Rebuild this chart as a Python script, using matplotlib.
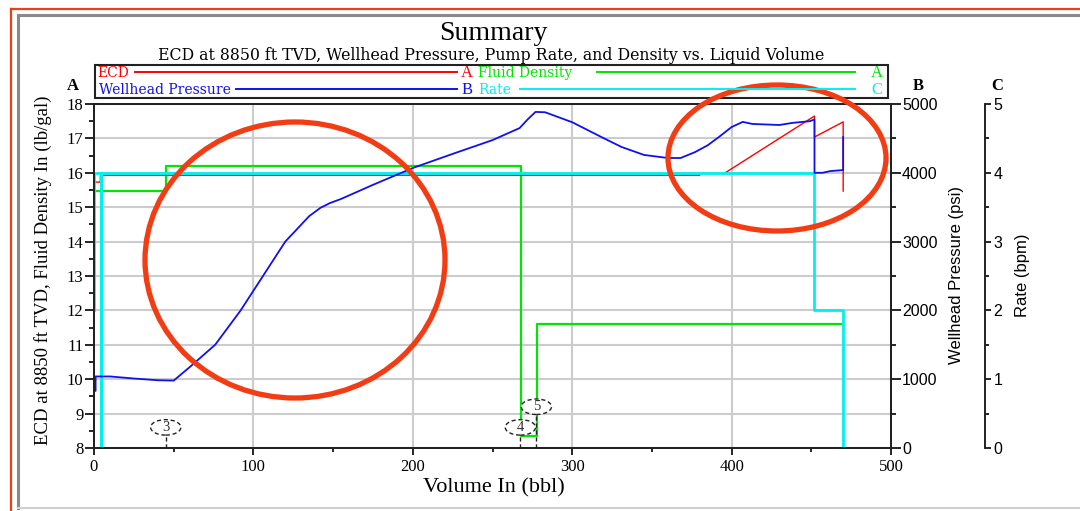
import matplotlib
matplotlib.use('Agg')
import matplotlib.pyplot as plt
from matplotlib.patches import Ellipse, Rectangle
from matplotlib.lines import Line2D
import numpy as np

SERIF = 'Liberation Serif'
WIDE = 'DejaVu Serif'
SANS = 'Liberation Sans'

RED = '#ff0000'
BLUE = '#1010ee'
GREEN = '#00e600'
CYAN = '#00f0f0'
MARK = '#f23c14'

# ECD at 8850 ft TVD (lb/gal), axis A
ecd_x = [0, 4, 4, 380, np.nan, 396, 452, 452, 470, 470]
ecd_y = [15.73, 15.73, 15.93, 15.93, np.nan, 16.0, 17.65, 17.04, 17.48, 15.47]

# fluid density in (lb/gal), axis A
dens_x = [0, 45, 45, 267.7, 267.7, 277.7, 277.7, 469]
dens_y = [15.47, 15.47, 16.2, 16.2, 8.35, 8.35, 11.6, 11.6]

# wellhead pressure (psi), axis B
whp_x = [0, 1, 1, 10, 25, 40, 50, 60, 76, 92, 106, 120, 135, 142, 148, 155,
         175, 200, 225, 250, 267, 272, 277, 283, 300, 320, 331, 345, 360, 368,
         377, 385, 392, 400, 407, 413, 430, 438, 449, 452, 452, 457, 462, 470,
         470]
whp_y = [830, 830, 1040, 1040, 1010, 985, 980, 1175, 1500, 2000, 2500, 3000,
         3370, 3490, 3560, 3620, 3825, 4070, 4275, 4475, 4650, 4775, 4885,
         4880, 4735, 4500, 4375, 4260, 4215, 4215, 4300, 4400, 4520, 4665,
         4740, 4710, 4695, 4725, 4750, 4775, 4000, 4000, 4025, 4040, 4520]

# pump rate (bpm), axis C
rate_x = [0, 0, 4.4, 4.4, 4.4, 451.5, 451.5, 470, 470]
rate_y = [2, 4, 4, 0, 4, 4, 2, 2, 0]

# event markers
event_x = [45, 267.5, 277.5]
event_y = [8.6, 8.6, 9.2]
event_lbl = ['3', '4', '5']

W, H = 1080, 511


def fx(px):
    return px / W


def fy(py):
    return 1 - py / H


fig = plt.figure(figsize=(W / 100, H / 100), dpi=100)
ax = fig.add_axes([fx(94), fy(448), (891 - 94) / W, (448 - 104) / H])
ax_c = ax.twinx()
ax_b = ax.twinx()
ax_c.spines['right'].set_position(('axes', 1 + 94 / 797))
for s in ['top', 'left', 'bottom']:
    ax_c.spines[s].set_visible(False)

for a in [ax, ax_b, ax_c]:
    for s in a.spines.values():
        s.set_color('#222222')
        s.set_linewidth(1.4)

ax.set_xlim(0, 500)
ax.set_ylim(8, 18)
ax_b.set_ylim(0, 5000)
ax_c.set_ylim(0, 5)

ax.set_xticks(range(0, 501, 100))
ax.set_xticks(range(50, 500, 100), minor=True)
ax.set_yticks(range(8, 19))
ax.set_yticks(np.arange(8.5, 18, 1), minor=True)
ax_b.set_yticks(range(0, 5001, 1000))
ax_b.set_yticks(range(500, 5000, 1000), minor=True)
ax_c.set_yticks(range(0, 6))
ax_c.set_yticks(np.arange(0.5, 5, 1), minor=True)

ax.tick_params(axis='x', which='major', length=5, width=1.2, pad=3, labelsize=12)
ax.tick_params(axis='x', which='minor', length=3, width=1.2)
ax.tick_params(axis='y', which='major', length=6.5, width=1.2, pad=1, labelsize=12)
ax.tick_params(axis='y', which='minor', length=3.5, width=1.2)
ax_b.tick_params(which='major', length=7, width=1.2, pad=1, labelsize=11.5)
ax_b.tick_params(which='minor', length=3.5, width=1.2)
ax_c.tick_params(which='major', length=4, width=1.2, pad=2, labelsize=11.5)
ax_c.tick_params(which='minor', length=3, width=1.2)
for lab in ax.get_xticklabels() + ax.get_yticklabels():
    lab.set_family(SERIF)
for lab in ax_b.get_yticklabels() + ax_c.get_yticklabels():
    lab.set_family(SANS)

ax.grid(True, which='major', color='#cccccc', lw=1.5)
ax.set_axisbelow(True)

ax.plot(ecd_x, ecd_y, color=RED, lw=1.0, zorder=3)
ax.plot(dens_x, dens_y, color=GREEN, lw=1.6, zorder=2)
ax_c.plot(rate_x, rate_y, color=CYAN, lw=2.0)
ax_b.plot(whp_x, whp_y, color=BLUE, lw=1.3)

for x, y, t in zip(event_x, event_y, event_lbl):
    ax.plot([x, x], [8, y - 0.22], color='#222222', lw=1.0, ls=(0, (3, 2)), zorder=4)
    ax.add_patch(Ellipse((x, y), 19, 0.45, fc='white', ec='#222222', lw=1.0,
                         ls=(0, (3, 2)), zorder=5))
    ax.text(x, y, t, ha='center', va='center', fontsize=10.5, family=SERIF,
            color='#333333', zorder=6)

# titles and axis labels
fig.text(fx(493), fy(33), 'Summary', ha='center', va='center', fontsize=20, family=SERIF)
fig.text(fx(491), fy(55),
         'ECD at 8850 ft TVD, Wellhead Pressure, Pump Rate, and Density vs. Liquid Volume',
         ha='center', va='center', fontsize=11.3, family=WIDE)
fig.text(fx(494), fy(488), 'Volume In (bbl)', ha='center', va='center', fontsize=16, family=SERIF)
fig.text(fx(43), fy(270), 'ECD at 8850 ft TVD, Fluid Density In (lb/gal)', rotation=90,
         ha='center', va='center', fontsize=13.5, family=SERIF)
fig.text(fx(957), fy(275), 'Wellhead Pressure (psi)', rotation=90,
         ha='center', va='center', fontsize=12, family=SANS)
fig.text(fx(1022), fy(275), 'Rate (bpm)', rotation=90,
         ha='center', va='center', fontsize=12, family=SANS)
for px, t in [(73, 'A'), (918, 'B'), (997, 'C')]:
    fig.text(fx(px), fy(86), t, ha='center', va='center', fontsize=12,
             family=SERIF, weight='bold')

# legend box
fig.add_artist(Rectangle((fx(95), fy(98)), (888 - 95) / W, (98 - 65) / H,
                         transform=fig.transFigure, fill=False, ec='#222222', lw=1.5))
rows = [
    (73, 'ECD', RED, 97, 135, 457, 'A', 467),
    (73, 'Fluid Density', GREEN, 478, 597, 855, 'A', 877),
    (90, 'Wellhead Pressure', BLUE, 99, 236, 457, 'B', 467),
    (90, 'Rate', CYAN, 478, 520, 855, 'C', 877),
]
for py, name, col, tx, l0, l1, axn, ax_px in rows:
    fig.text(fx(tx), fy(py), name, color=col, fontsize=10, family=WIDE, va='center')
    fig.add_artist(Line2D([fx(l0), fx(l1)], [fy(py - 1)] * 2, color=col, lw=1.4,
                          transform=fig.transFigure))
    fig.text(fx(ax_px), fy(py), axn, color=col, fontsize=12, family=SERIF,
             ha='center', va='center')

# annotation marks and frame
fig.add_artist(Ellipse((fx(295), fy(260)), 300 / W, 276 / H, transform=fig.transFigure,
                       fill=False, ec=MARK, lw=3.8))
fig.add_artist(Ellipse((fx(777), fy(158)), 218 / W, 146 / H, transform=fig.transFigure,
                       fill=False, ec=MARK, lw=3.8))
fig.add_artist(Line2D([fx(11), 1], [fy(9), fy(9)], color=MARK, lw=1.6, transform=fig.transFigure))
fig.add_artist(Line2D([fx(11), fx(11)], [0, fy(9)], color=MARK, lw=1.6, transform=fig.transFigure))
fig.add_artist(Line2D([fx(18), 1], [fy(15), fy(15)], color='#8a8a8a', lw=2.2, transform=fig.transFigure))
fig.add_artist(Line2D([fx(18), fx(18)], [fy(508), fy(15)], color='#8a8a8a', lw=2.2, transform=fig.transFigure))
fig.add_artist(Line2D([fx(18), 1], [fy(508), fy(508)], color='#d0d0d0', lw=1.5, transform=fig.transFigure))

fig.savefig('out.png', dpi=100)
